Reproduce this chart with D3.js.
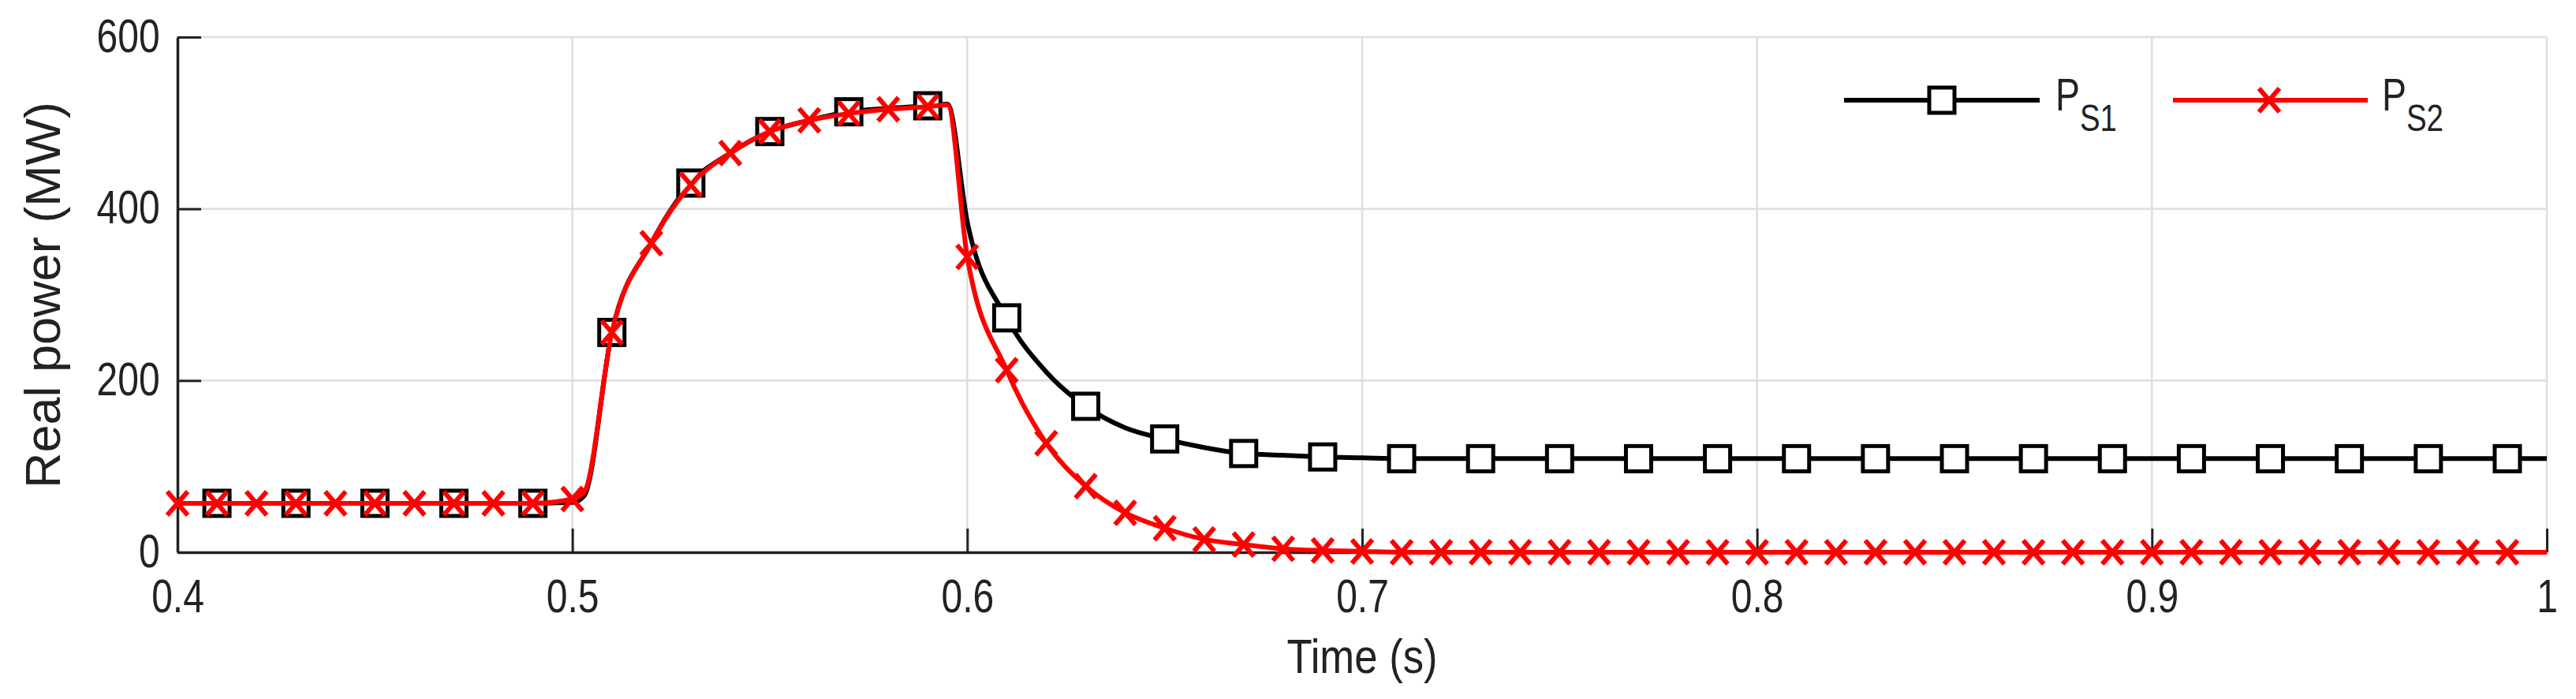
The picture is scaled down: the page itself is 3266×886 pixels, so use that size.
<!DOCTYPE html>
<html>
<head>
<meta charset="utf-8">
<script src="https://cdn.jsdelivr.net/npm/d3@7"></script>
<style>
  body { margin: 0; background: #fff; }
  text { font-family: "Liberation Sans", Arial, sans-serif; fill: #222; }
</style>
</head>
<body>
<div id="chart"></div>
<script>
// Data
var times = [0.40, 0.41, 0.42, 0.43, 0.44, 0.45, 0.46, 0.47, 0.48, 0.49, 0.50, 0.503,
  0.51, 0.52, 0.53, 0.54, 0.55, 0.56, 0.57, 0.58, 0.59, 0.595,
  0.60, 0.61, 0.62, 0.63, 0.64, 0.65, 0.66, 0.67, 0.68, 0.69, 0.70,
  0.71, 0.72, 0.73, 0.74, 0.75, 0.76, 0.77, 0.78, 0.79, 0.80,
  0.81, 0.82, 0.83, 0.84, 0.85, 0.86, 0.87, 0.88, 0.89, 0.90,
  0.91, 0.92, 0.93, 0.94, 0.95, 0.96, 0.97, 0.98, 0.99, 1.00];
var ps1 = [57, 57, 57, 57, 57, 57, 57, 57, 57, 57, 58, 66,
  256, 360, 430, 465, 490, 503, 513, 517, 520, 522,
  385, 273, 210, 170, 145, 132, 122, 115, 113, 111, 110,
  109, 109, 109, 109, 109, 109, 109, 109, 109, 109,
  109, 109, 109, 109, 109, 109, 109, 109, 109, 109,
  109, 109, 109, 109, 109, 109, 109, 109, 109, 109];
var ps2 = [57, 57, 57, 57, 57, 57, 57, 57, 57, 57, 62, 70,
  256, 360, 428, 465, 490, 503, 511, 516, 519, 521,
  344, 212, 127, 77, 46, 28, 15, 9, 4, 2, 1,
  0, 0, 0, 0, 0, 0, 0, 0, 0, 0,
  0, 0, 0, 0, 0, 0, 0, 0, 0, 0,
  0, 0, 0, 0, 0, 0, 0, 0, 0, 0];
var ps1Markers = [0.41, 0.43, 0.45, 0.47, 0.49, 0.51, 0.53, 0.55, 0.57, 0.59,
  0.61, 0.63, 0.65, 0.67, 0.69, 0.71, 0.73, 0.75, 0.77, 0.79, 0.81, 0.83, 0.85,
  0.87, 0.89, 0.91, 0.93, 0.95, 0.97, 0.99];
var ps2Markers = [0.40, 0.41, 0.42, 0.43, 0.44, 0.45, 0.46, 0.47, 0.48, 0.49, 0.50,
  0.51, 0.52, 0.53, 0.54, 0.55, 0.56, 0.57, 0.58, 0.59, 0.60, 0.61, 0.62, 0.63,
  0.64, 0.65, 0.66, 0.67, 0.68, 0.69, 0.70, 0.71, 0.72, 0.73, 0.74, 0.75, 0.76,
  0.77, 0.78, 0.79, 0.80, 0.81, 0.82, 0.83, 0.84, 0.85, 0.86, 0.87, 0.88, 0.89,
  0.90, 0.91, 0.92, 0.93, 0.94, 0.95, 0.96, 0.97, 0.98, 0.99];
var xTicks = [0.4, 0.5, 0.6, 0.7, 0.8, 0.9, 1];
var yTicks = [0, 200, 400, 600];

var svgWidth = 3266;
var svgHeight = 886;
var margin = { top: 47, right: 37, bottom: 186, left: 225 };
var width = svgWidth - margin.left - margin.right;
var height = svgHeight - margin.top - margin.bottom;

var svg = d3.select("#chart").append("svg")
  .attr("width", svgWidth)
  .attr("height", svgHeight);

var g = svg.append("g")
  .attr("transform", `translate(${margin.left}, ${margin.top})`);

var x = d3.scaleLinear().domain([0.4, 1]).range([0, width]);
var y = d3.scaleLinear().domain([0, 600]).range([height, 0]);

// grid
g.selectAll(".vgrid").data(xTicks.slice(1)).enter().append("line")
  .attr("x1", d => x(d)).attr("x2", d => x(d))
  .attr("y1", 0).attr("y2", height)
  .attr("stroke", "#dedede").attr("stroke-width", 2.5);
g.selectAll(".hgrid").data(yTicks.slice(1)).enter().append("line")
  .attr("x1", 0).attr("x2", width)
  .attr("y1", d => y(d)).attr("y2", d => y(d))
  .attr("stroke", "#dedede").attr("stroke-width", 2.5);

// axes
var xAxis = g.append("g")
  .attr("transform", `translate(0, ${height})`)
  .call(d3.axisBottom(x).tickValues(xTicks).tickFormat(d => d === 1 ? "1" : d3.format(".1f")(d))
    .tickSizeInner(-30).tickSizeOuter(0).tickPadding(0));
xAxis.select(".domain").attr("stroke", "#222").attr("stroke-width", 3.5);
xAxis.selectAll(".tick line").attr("stroke", "#222").attr("stroke-width", 3);
xAxis.selectAll(".tick text")
  .attr("y", 76).attr("dy", 0)
  .attr("font-size", 60)
  .attr("transform", "scale(0.8,1)");

var yAxis = g.append("g")
  .call(d3.axisLeft(y).tickValues(yTicks).tickSizeInner(-30).tickSizeOuter(0).tickPadding(0));
yAxis.select(".domain").attr("stroke", "#222").attr("stroke-width", 3.5);
yAxis.selectAll(".tick line").attr("stroke", "#222").attr("stroke-width", 3);
yAxis.selectAll(".tick text")
  .attr("x", -28).attr("dy", "0.3em")
  .attr("font-size", 60)
  .attr("transform", "scale(0.8,1)");

// axis labels
svg.append("text")
  .attr("transform", `translate(${margin.left + width / 2}, 853) scale(0.85,1)`)
  .attr("text-anchor", "middle")
  .attr("font-size", 62)
  .text("Time (s)");
svg.append("text")
  .attr("transform", "translate(76, 374) rotate(-90)")
  .attr("text-anchor", "middle")
  .attr("font-size", 63)
  .text("Real power (MW)");

// series
var data1 = times.map((t, i) => ({ t: t, v: ps1[i] }));
var data2 = times.map((t, i) => ({ t: t, v: ps2[i] }));
var line = d3.line().x(d => x(d.t)).y(d => y(d.v)).curve(d3.curveMonotoneX);

g.append("path").datum(data1).attr("d", line)
  .attr("fill", "none").attr("stroke", "#000").attr("stroke-width", 6);

function near(list, t) { return list.some(m => Math.abs(m - t) < 1e-6); }

var sq = 32;
g.selectAll(".sq").data(data1.filter(d => near(ps1Markers, d.t))).enter().append("rect")
  .attr("x", d => x(d.t) - sq / 2).attr("y", d => y(d.v) - sq / 2)
  .attr("width", sq).attr("height", sq)
  .attr("fill", "#fff").attr("stroke", "#000").attr("stroke-width", 5);

g.append("path").datum(data2).attr("d", line)
  .attr("fill", "none").attr("stroke", "#f00").attr("stroke-width", 6);

g.selectAll(".cx").data(data2.filter(d => near(ps2Markers, d.t))).enter().append("path")
  .attr("transform", d => `translate(${x(d.t)}, ${y(d.v)})`)
  .attr("d", "M-13,-15L13,15M-13,15L13,-15")
  .attr("stroke", "#f00").attr("stroke-width", 6).attr("fill", "none");

// legend
var legend = svg.append("g");
legend.append("line").attr("x1", 2338).attr("x2", 2586).attr("y1", 127).attr("y2", 127)
  .attr("stroke", "#000").attr("stroke-width", 6);
legend.append("rect").attr("x", 2462 - sq / 2).attr("y", 127 - sq / 2)
  .attr("width", sq).attr("height", sq)
  .attr("fill", "#fff").attr("stroke", "#000").attr("stroke-width", 5);
legend.append("line").attr("x1", 2755).attr("x2", 3002).attr("y1", 127).attr("y2", 127)
  .attr("stroke", "#f00").attr("stroke-width", 6);
legend.append("path").attr("transform", "translate(2877, 127)")
  .attr("d", "M-13,-15L13,15M-13,15L13,-15")
  .attr("stroke", "#f00").attr("stroke-width", 6);

[["S1", 2606], ["S2", 3020]].forEach(function(p) {
  var t = legend.append("text")
    .attr("transform", `translate(${p[1]}, 140) scale(0.8,1)`)
    .attr("font-size", 58);
  t.append("tspan").text("P");
  t.append("tspan").attr("dy", 26).attr("font-size", 48).text(p[0]);
});
</script>
</body>
</html>
